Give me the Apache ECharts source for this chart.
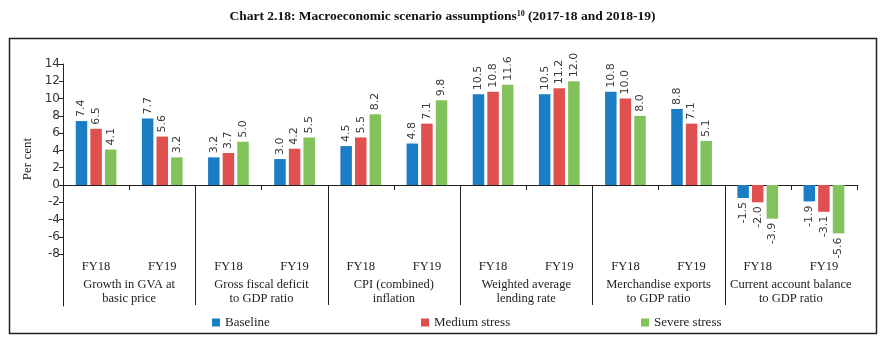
<!DOCTYPE html>
<html>
<head>
<meta charset="utf-8">
<script src="https://cdn.jsdelivr.net/npm/echarts@6/dist/echarts.min.js"></script>
<style>html,body{margin:0;padding:0;background:#fff;}#c{width:885px;height:341px;}</style>
</head>
<body>
<div id="c"></div>
<script>
const categories = ['FY18','FY19','FY18','FY19','FY18','FY19','FY18','FY19','FY18','FY19','FY18','FY19'];
const groups = ['Growth in GVA at\nbasic price','Gross fiscal deficit\nto GDP ratio','CPI (combined)\ninflation','Weighted average\nlending rate','Merchandise exports\nto GDP ratio','Current account balance\nto GDP ratio'];
const baseline = [7.4, 7.7, 3.2, 3.0, 4.5, 4.8, 10.5, 10.5, 10.8, 8.8, -1.5, -1.9];
const medium   = [6.5, 5.6, 3.7, 4.2, 5.5, 7.1, 10.8, 11.2, 10.0, 7.1, -2.0, -3.1];
const severe   = [4.1, 3.2, 5.0, 5.5, 8.2, 9.8, 11.6, 12.0, 8.0, 5.1, -3.9, -5.6];
const seriesNames = ['Baseline','Medium stress','Severe stress'];
const yTicks = [-8,-6,-4,-2,0,2,4,6,8,10,12,14];

const serif = '"Liberation Serif", "DejaVu Serif", serif';
const sans = '"DejaVu Sans", Verdana, sans-serif';
const colors = ['#1b7dc3','#e0504e','#82c25c'];

function mkData(arr){
  return arr.map(v => ({
    value: v,
    label: v < 0 ? {align:'right'} : {align:'left'}
  }));
}
function mkSeries(name, arr, color){
  return {
    name: name, type:'bar', xAxisIndex:0, yAxisIndex:0,
    data: mkData(arr),
    barWidth: 11.5, barGap: '27%',
    itemStyle: {color: color},
    label: {
      show:true, position:'outside', rotate:90, distance:4,
      verticalAlign:'middle',
      formatter: p => p.value.toFixed(1),
      fontFamily: sans, fontSize: 11, color:'#3a3a3a'
    },
    animation:false
  };
}

const chart = echarts.init(document.getElementById('c'), null, {renderer:'canvas'});
chart.setOption({
  animation:false,
  title: {
    text: '{t|Chart 2.18: Macroeconomic scenario assumptions}{s|10}{t| (2017-18 and 2018-19)}',
    left:'center', top:5,
    textStyle:{
      rich:{
        t:{fontFamily: serif, fontWeight:'bold', fontSize:13.5, color:'#111'},
        s:{fontFamily: serif, fontWeight:'bold', fontSize:8, color:'#111', verticalAlign:'top', padding:[0,0,6,0]}
      }
    }
  },
  graphic: [{
    type:'rect', shape:{x:9.5, y:38.5, width:867, height:295},
    style:{fill:'none', stroke:'#222', lineWidth:1.5}, silent:true
  }],
  legend: [
    {data:[seriesNames[0]], left:207, top:311},
    {data:[seriesNames[1]], left:416, top:311},
    {data:[seriesNames[2]], left:636, top:311}
  ].map(l => Object.assign(l, {icon:'rect', itemWidth:8, itemHeight:8, itemGap:6,
      textStyle:{fontFamily: serif, fontSize:13, color:'#222'}})),
  grid: [
    {left:63, right:28, top:64, bottom:35},
    {left:63, right:160, top:185, bottom:36},
    {left:63, right:28, top:64, height:190.14}
  ],
  xAxis: [
    {gridIndex:0, type:'category', data:categories,
      axisLine:{onZero:true, lineStyle:{color:'#222', width:1}},
      axisTick:{show:true, length:5, interval:(i)=> i % 2 === 1, lineStyle:{color:'#222'}},
      axisLabel:{show:false}, splitLine:{show:false}},
    {gridIndex:0, type:'category', data:categories, position:'bottom', offset:-48,
      axisLine:{show:false}, axisTick:{show:false},
      axisLabel:{show:true, interval:0, margin:2, fontFamily: serif, fontSize:12.5, color:'#222'}},
    {gridIndex:0, type:'category', data:groups, position:'bottom', offset:-28,
      axisLine:{show:false}, axisTick:{show:false},
      axisLabel:{show:true, interval:0, margin:0, lineHeight:14, fontFamily: serif, fontSize:12.5, color:'#222'}},
    {gridIndex:1, type:'category', data:groups.slice(0,5),
      axisLine:{show:false}, axisTick:{show:false}, axisLabel:{show:false},
      splitLine:{show:true, interval:0, lineStyle:{color:'#222', width:1}}},
    {gridIndex:2, type:'category', data:categories, show:false}
  ],
  yAxis: [
    {gridIndex:0, type:'value', min:-14, max:14, interval:2,
      axisLine:{show:true, lineStyle:{color:'#222', width:1}},
      axisTick:{show:false}, axisLabel:{show:false}, splitLine:{show:false}},
    {gridIndex:1, type:'value', show:false},
    {gridIndex:2, type:'value', min:yTicks[0], max:yTicks[yTicks.length-1], interval:2,
      axisLine:{show:false},
      axisTick:{show:true, length:4, lineStyle:{color:'#222'}},
      axisLabel:{show:true, margin:3, fontFamily: sans, fontSize:12, color:'#333'},
      splitLine:{show:false},
      name:'Per cent', nameLocation:'middle', nameGap:21,
      nameTextStyle:{fontFamily: serif, fontSize:13, color:'#222'}}
  ],
  series: [
    mkSeries(seriesNames[0], baseline, colors[0]),
    mkSeries(seriesNames[1], medium, colors[1]),
    mkSeries(seriesNames[2], severe, colors[2])
  ]
});
</script>
</body>
</html>
